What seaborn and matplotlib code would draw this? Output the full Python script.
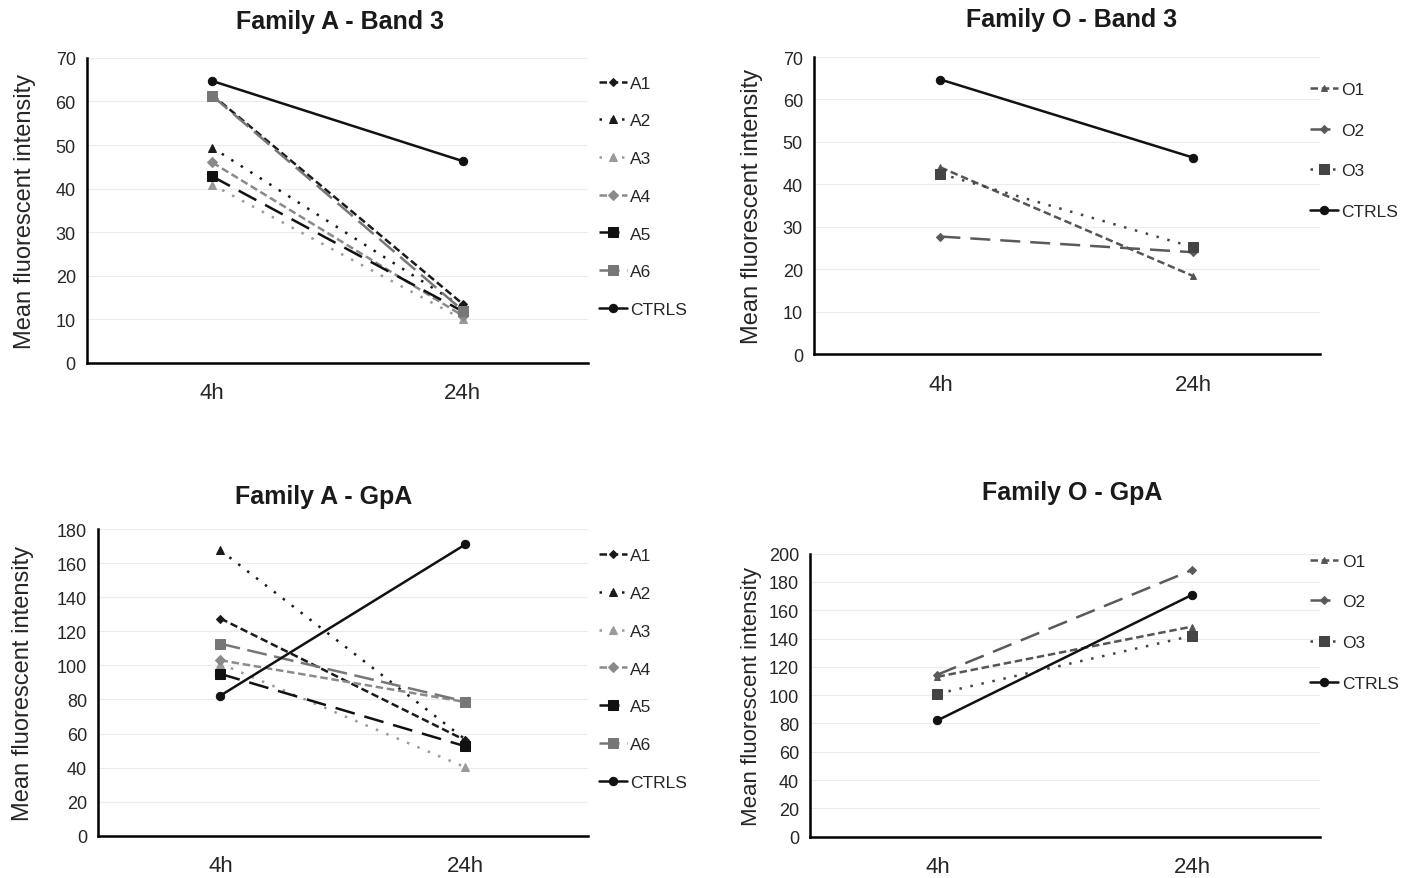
import numpy as np
import pandas as pd
import matplotlib
matplotlib.use("Agg")
import matplotlib.pyplot as plt
import seaborn as sns

# Dados
tempos = ["4h", "24h"]

# Family A - Band 3
a_band3 = {
    "A1": [61.5, 13.5],
    "A2": [49.4, 12.8],
    "A3": [40.9, 10.0],
    "A4": [46.0, 10.8],
    "A5": [42.8, 11.8],
    "A6": [61.3, 12.0],
    "CTRLS": [64.7, 46.3],
}
# Family O - Band 3
o_band3 = {
    "O1": [44.0, 18.4],
    "O2": [27.7, 24.0],
    "O3": [42.5, 25.2],
    "CTRLS": [64.7, 46.3],
}
# Family A - GpA
a_gpa = {
    "A1": [127.5, 56.0],
    "A2": [167.5, 56.5],
    "A3": [101.0, 40.2],
    "A4": [103.0, 78.5],
    "A5": [95.0, 52.5],
    "A6": [112.7, 78.8],
    "CTRLS": [82.3, 171.0],
}
# Family O - GpA
o_gpa = {
    "O1": [113.0, 148.5],
    "O2": [114.5, 188.5],
    "O3": [101.0, 142.0],
    "CTRLS": [82.2, 171.0],
}

# estilos (cor, linha, marcador, tamanho)
estilos = {
    "A1": ("#1a1a1a", (0, (3, 1.5)), "D", 4),
    "A2": ("#1a1a1a", (0, (1, 3.5)), "^", 6),
    "A3": ("#9a9a9a", (0, (1, 3.5)), "^", 6),
    "A4": ("#8a8a8a", (0, (3, 1.5)), "D", 5),
    "A5": ("#111111", (0, (8, 4)), "s", 7),
    "A6": ("#777777", (0, (8, 3)), "s", 7),
    "O1": ("#555555", (0, (3, 1.5)), "^", 5),
    "O2": ("#5a5a5a", (0, (8, 4)), "D", 4),
    "O3": ("#444444", (0, (1, 3.5)), "s", 7),
    "CTRLS": ("#111111", "-", "o", 6),
}

sns.set_style("white")
plt.rcParams["font.family"] = ["Liberation Sans", "DejaVu Sans"]

fig = plt.figure(figsize=(14.12, 8.79), dpi=100)

# titulo, dados, posicao, ymax, passo, legenda (x, y), espacamento, titulo (x, y) em px, labelpad, tamanho do ylabel
paineis = [
    ("Family A - Band 3", a_band3, [0.0616, 0.586, 0.355, 0.347], 70, 10, (1.008, 0.965), 1.3, (340, 22), 14, 17),
    ("Family O - Band 3", o_band3, [0.5765, 0.596, 0.358, 0.338], 70, 10, (0.968, 0.94), 1.47, (1072, 20), 14, 17),
    ("Family A - GpA", a_gpa, [0.0694, 0.048, 0.347, 0.349], 180, 20, (1.008, 0.96), 1.3, (324, 497), 16, 17),
    ("Family O - GpA", o_gpa, [0.5737, 0.047, 0.361, 0.322], 200, 20, (0.968, 1.025), 1.47, (1072, 493), 5, 16),
]

for titulo, dados, pos, ymax, passo, leg_pos, espac, tit_pos, lpad, ysize in paineis:
    ax = fig.add_axes(pos)
    for nome, vals in dados.items():
        cor, ls, mk, ms = estilos[nome]
        df = pd.DataFrame({"x": [0, 1], "y": vals})
        sns.lineplot(data=df, x="x", y="y", ax=ax, color=cor, linestyle=ls,
                     linewidth=1.8, marker=mk, markersize=ms, markeredgecolor=cor,
                     label=nome)
    ax.set_xlim(-0.5, 1.5)
    ax.set_ylim(0, ymax)
    ax.set_yticks(np.arange(0, ymax + 1, passo))
    ax.set_xticks([-0.5, 0.5, 1.5])
    ax.set_xticklabels([])
    ax.set_xticks([0, 1], minor=True)
    ax.set_xticklabels(tempos, minor=True, fontsize=16)
    ax.tick_params(axis="x", which="minor", length=0, pad=14)
    ax.tick_params(axis="x", which="major", direction="out", length=6, width=1.5, color="black")
    ax.tick_params(axis="y", direction="out", length=5, width=1.5, color="black", labelsize=13, pad=3)
    ax.yaxis.grid(True, color="#ececec", linewidth=0.8)
    ax.set_axisbelow(True)
    for s in ["top", "right"]:
        ax.spines[s].set_visible(False)
    for s in ["left", "bottom"]:
        ax.spines[s].set_color("black")
        ax.spines[s].set_linewidth(1.8)
    ax.set_xlabel("")
    ax.set_ylabel("Mean fluorescent intensity", fontsize=ysize, labelpad=lpad)
    fig.text(tit_pos[0] / 1412, 1 - tit_pos[1] / 879, titulo, fontsize=18,
             fontweight="bold", ha="center", va="center", color=".1")
    ax.legend(loc="upper left", bbox_to_anchor=leg_pos, frameon=False,
              fontsize=12.5, labelspacing=espac, handlelength=1.6, handletextpad=0.2,
              borderaxespad=0)

fig.savefig("out.png", dpi=100)
